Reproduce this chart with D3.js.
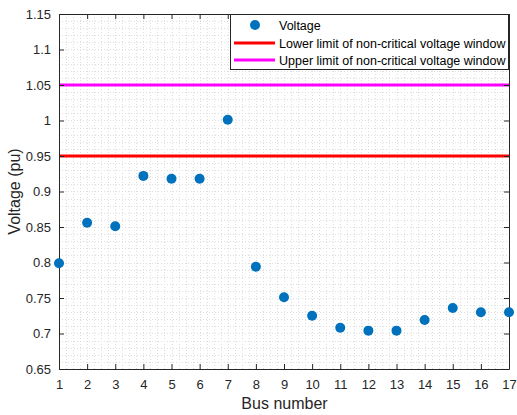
<!DOCTYPE html>
<html>
<head>
<meta charset="utf-8">
<script src="https://cdn.jsdelivr.net/npm/d3@7"></script>
<style>
  html, body { margin: 0; padding: 0; background: #fff; }
  svg { display: block; font-family: "Liberation Sans", Arial, Helvetica, sans-serif; }
</style>
</head>
<body>
<svg id="chart" width="517" height="415"></svg>
<script>
// Bus voltages (per unit) along the feeder
const buses = [1, 2, 3, 4, 5, 6, 7, 8, 9, 10, 11, 12, 13, 14, 15, 16, 17];
const voltage = [0.799, 0.856, 0.851, 0.922, 0.918, 0.918, 1.001, 0.794, 0.751,
                 0.725, 0.708, 0.704, 0.704, 0.719, 0.736, 0.730, 0.730];
const lowerLimit = 0.95;
const upperLimit = 1.05;
const xTicks = [1, 2, 3, 4, 5, 6, 7, 8, 9, 10, 11, 12, 13, 14, 15, 16, 17];
const yTicks = [0.65, 0.7, 0.75, 0.8, 0.85, 0.9, 0.95, 1, 1.05, 1.1, 1.15];
const legendLabels = ["Voltage", "Lower limit of non-critical voltage window",
                      "Upper limit of non-critical voltage window"];

const plotL = 59, plotR = 509, plotT = 14, plotB = 369;
const svg = d3.select("#chart");

const x = d3.scaleLinear().domain([1, 17]).range([plotL, plotR]);
const y = d3.scaleLinear().domain([0.65, 1.15]).range([plotB, plotT]);

// minor grid (dotted)
const grid = svg.append("g").attr("stroke", "#dedede").attr("stroke-width", 1)
  .attr("stroke-dasharray", "1,2").attr("fill", "none");
d3.range(1, 17.001, 0.25).forEach(v => {
  grid.append("line").attr("x1", Math.round(x(v)) + 0.5).attr("x2", Math.round(x(v)) + 0.5)
    .attr("y1", plotT).attr("y2", plotB);
});
d3.range(0.65, 1.1501, 0.01).forEach(v => {
  grid.append("line").attr("y1", Math.round(y(v)) + 0.5).attr("y2", Math.round(y(v)) + 0.5)
    .attr("x1", plotL).attr("x2", plotR);
});

// limit lines
svg.append("line").attr("x1", plotL).attr("x2", plotR)
  .attr("y1", y(lowerLimit)).attr("y2", y(lowerLimit))
  .attr("stroke", "#ff0000").attr("stroke-width", 3);
svg.append("line").attr("x1", plotL).attr("x2", plotR)
  .attr("y1", y(upperLimit)).attr("y2", y(upperLimit))
  .attr("stroke", "#ff00ff").attr("stroke-width", 3);

// axes
const fmt = d => String(+d.toFixed(2));
const xAxis = d3.axisBottom(x).tickValues(xTicks).tickSize(-5).tickSizeOuter(0).tickPadding(11);
const yAxis = d3.axisLeft(y).tickValues(yTicks).tickFormat(fmt).tickSize(-5).tickSizeOuter(0).tickPadding(8);
const xTop = d3.axisTop(x).tickValues(xTicks).tickSize(-5).tickSizeOuter(0).tickFormat("");
const yRight = d3.axisRight(y).tickValues(yTicks).tickSize(-5).tickSizeOuter(0).tickFormat("");

function style(g) {
  g.selectAll("path").attr("stroke", "#262626").attr("stroke-width", 1);
  g.selectAll("line").attr("stroke", "#262626");
  g.selectAll("text").attr("fill", "#262626").attr("font-size", 13)
    .attr("font-family", "'Liberation Sans', Arial, sans-serif");
}
svg.append("g").attr("transform", `translate(0,${plotB})`).call(xAxis).call(style);
svg.append("g").attr("transform", `translate(${plotL},0)`).call(yAxis).call(style);
svg.append("g").attr("transform", `translate(0,${plotT})`).call(xTop).call(style);
svg.append("g").attr("transform", `translate(${plotR},0)`).call(yRight).call(style);

// axis labels
svg.append("text").attr("x", (plotL + plotR) / 2 + 0.5).attr("y", 409)
  .attr("text-anchor", "middle").attr("font-size", 16).attr("fill", "#262626")
  .text("Bus number");
svg.append("text").attr("transform", `translate(20,${(plotT + plotB) / 2}) rotate(-90)`)
  .attr("text-anchor", "middle").attr("font-size", 16).attr("fill", "#262626")
  .text("Voltage (pu)");

// data points
svg.append("g").selectAll("circle").data(buses).join("circle")
  .attr("cx", (d) => x(d)).attr("cy", (d, i) => y(voltage[i]))
  .attr("r", 5).attr("fill", "#0072bd");

// legend
const lg = svg.append("g");
lg.append("rect").attr("x", 230.5).attr("y", 14.5).attr("width", 278).attr("height", 55)
  .attr("fill", "#fff").attr("stroke", "#262626").attr("stroke-width", 1);
const rows = [25, 43, 60];
lg.append("circle").attr("cx", 255).attr("cy", rows[0]).attr("r", 5).attr("fill", "#0072bd");
lg.append("line").attr("x1", 234).attr("x2", 275).attr("y1", rows[1]).attr("y2", rows[1])
  .attr("stroke", "#ff0000").attr("stroke-width", 3);
lg.append("line").attr("x1", 234).attr("x2", 275).attr("y1", rows[2]).attr("y2", rows[2])
  .attr("stroke", "#ff00ff").attr("stroke-width", 3);
legendLabels.forEach((t, i) => {
  lg.append("text").attr("x", 279).attr("y", rows[i] + 4.5).attr("font-size", 12.5)
    .attr("fill", "#000").text(t);
});
</script>
</body>
</html>
